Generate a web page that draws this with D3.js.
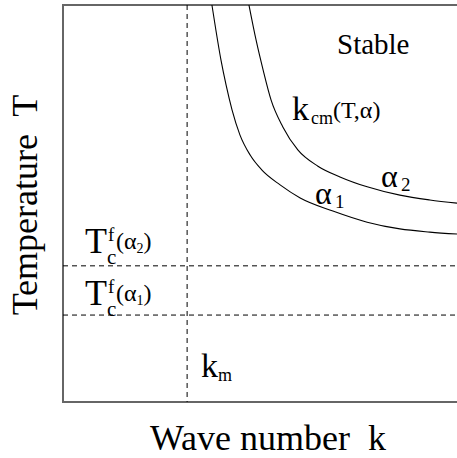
<!DOCTYPE html>
<html>
<head>
<meta charset="utf-8">
<script src="https://cdn.jsdelivr.net/npm/d3@7"></script>
<style>
  body { margin: 0; background: #fff; }
  svg { display: block; }
  text { white-space: pre; fill: #000; font-family: 'Liberation Serif', 'Times New Roman', Times, 'DejaVu Serif', serif; }
</style>
</head>
<body>
<div id="chart"></div>
<script>
// critical wave number curves k_cm(T, alpha), in plot units (k, T in 0..1)
const alpha1K = [0.378, 0.388, 0.401, 0.414, 0.429, 0.449, 0.475, 0.505, 0.551, 0.602, 0.685, 0.772, 0.855, 0.931, 1.0]
const alpha1T = [1.0, 0.937, 0.861, 0.798, 0.736, 0.673, 0.622, 0.584, 0.547, 0.514, 0.481, 0.453, 0.436, 0.428, 0.423]
const alpha2K = [0.472, 0.490, 0.508, 0.528, 0.558, 0.596, 0.647, 0.703, 0.772, 0.855, 0.931, 1.0]
const alpha2T = [1.0, 0.912, 0.836, 0.761, 0.693, 0.635, 0.594, 0.567, 0.542, 0.521, 0.509, 0.501]

// dashed reference values
const kM = 0.315
const tcAlpha = [0.343, 0.219]   // Tc^f(alpha2), Tc^f(alpha1)
const tcNames = ["2", "1"]

const width = 457, height = 458
const margin = { top: 5, right: 0, bottom: 56, left: 63 }

const svg = d3.select("#chart").append("svg")
    .attr("width", width)
    .attr("height", height)

const x = d3.scaleLinear().domain([0, 1]).range([margin.left, width - margin.right])
const y = d3.scaleLinear().domain([0, 1]).range([height - margin.bottom, margin.top])

// frame: top, left, bottom (right side runs off the picture)
svg.append("path")
    .attr("d", "M" + x(1) + "," + y(1) + "H" + x(0) + "V" + y(0) + "H" + x(1))
    .attr("fill", "none")
    .attr("stroke", "#666")
    .attr("stroke-width", 2)

// dashed lines
svg.append("line")
    .attr("x1", x(kM)).attr("x2", x(kM))
    .attr("y1", y(1)).attr("y2", y(0))
    .attr("stroke", "#000").attr("stroke-width", 1)
    .attr("stroke-dasharray", "5,4")

svg.selectAll(".tc").data(tcAlpha).enter().append("line")
    .attr("class", "tc")
    .attr("x1", x(0)).attr("x2", x(1))
    .attr("y1", d => y(d)).attr("y2", d => y(d))
    .attr("stroke", "#000").attr("stroke-width", 1)
    .attr("stroke-dasharray", "5,4")

// curves
const line = d3.line()
    .x(d => x(d[0]))
    .y(d => y(d[1]))
    .curve(d3.curveMonotoneX)

const curves = [d3.zip(alpha1K, alpha1T), d3.zip(alpha2K, alpha2T)]
svg.selectAll(".curve").data(curves).enter().append("path")
    .attr("class", "curve")
    .attr("d", line)
    .attr("fill", "none")
    .attr("stroke", "#000")
    .attr("stroke-width", 1.1)

// helper for base + sub/superscript labels
function label(px, py, parts) {
    const t = svg.append("text").attr("x", px).attr("y", py)
    parts.forEach(p => {
        const s = t.append("tspan").text(p.s).style("font-size", p.size + "px")
        if (p.x != null) s.attr("x", p.x)
        if (p.y != null) s.attr("y", p.y)
    })
    return t
}

// region label
svg.append("text").attr("x", 337).attr("y", 54)
    .style("font-size", "29px").text("Stable")

// k_cm(T, alpha)
label(292, 120, [
    { s: "k", size: 34 },
    { s: "cm", size: 18, x: 311, y: 124 },
    { s: "(T,α)", size: 24, x: 333, y: 118 }
])

// alpha labels on curves
label(315, 204, [{ s: "α", size: 32 }, { s: "1", size: 19, x: 335, y: 208 }])
label(381, 187, [{ s: "α", size: 32 }, { s: "2", size: 19, x: 401, y: 191 }])

// Tc^f labels
const tcShift = [-13, -10]
tcAlpha.forEach((v, i) => {
    const by = y(v) + tcShift[i]
    label(85, by, [
        { s: "T", size: 36 },
        { s: "c", size: 21, x: 107, y: by + 11 },
        { s: "f", size: 19, x: 108, y: by - 12 },
        { s: "(α", size: 24, x: 116, y: by - 4 },
        { s: tcNames[i], size: 14, y: by },
        { s: ")", size: 24, y: by - 4 }
    ])
})

// k_m
label(201, 377, [{ s: "k", size: 34 }, { s: "m", size: 18, x: 218, y: 381 }])

// axis titles
svg.append("text")
    .attr("x", (x(0) + x(1)) / 2 + 8).attr("y", 450)
    .attr("text-anchor", "middle")
    .style("font-size", "36px")
    .text("Wave number  k")

svg.append("text")
    .attr("transform", "translate(37," + 205 + ") rotate(-90)")
    .attr("text-anchor", "middle")
    .style("font-size", "36px")
    .text("Temperature  T")
</script>
</body>
</html>
